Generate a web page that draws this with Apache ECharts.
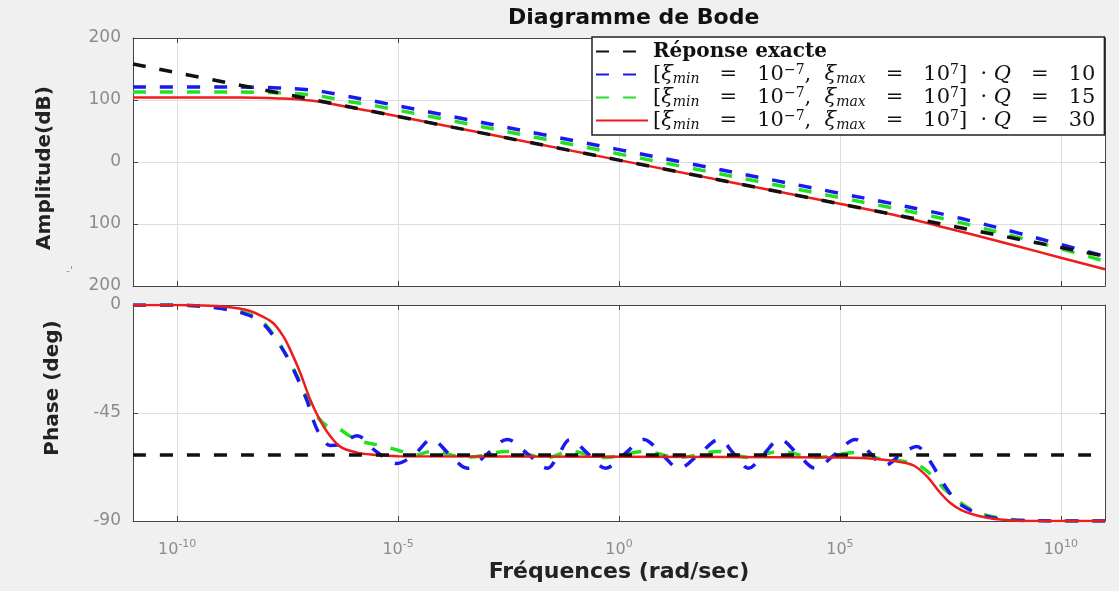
<!DOCTYPE html>
<html><head><meta charset="utf-8">
<script src="https://cdn.jsdelivr.net/npm/echarts@6/dist/echarts.min.js"></script>
<style>html,body{margin:0;padding:0;background:#f0f0f0;}#c{width:1119px;height:591px;}</style>
</head><body><div id="c"></div>
<script>
// ---- data (x values are log10 of frequency in rad/sec) ----
const seriesNames = ['Réponse exacte', 'Q = 10', 'Q = 15', 'Q = 30'];
const xTickValues = [-10, -5, 0, 5, 10];
const ampTicks = [-200, -100, 0, 100, 200];
const phaseTicks = [-90, -45, 0];

const ampExactX = [-11, -5, 0, 5, 11];
const ampExactY = [158, 73.5, 3, -67.5, -152];
const ampQ10X = [-11, -9, -8.2, -7.7, -7.17, -6.7, -6.2, -5.5, 0, 5, 6, 7, 7.5, 8, 9, 10, 11];
const ampQ10Y = [121, 121, 120.5, 119.5, 117.5, 113.5, 106.5, 97.5, 20, -50.5, -64.5, -79, -87, -95.5, -114, -133, -152];
const ampQ15X = [-11, -9, -8.2, -7.7, -7.17, -6.7, -6.2, -5.5, 0, 5, 6, 7, 7.5, 8, 9, 10, 11];
const ampQ15Y = [113, 113, 112.5, 111.5, 109.5, 105.5, 98.5, 90.5, 13, -57.5, -71.5, -86, -94, -102.5, -121, -140, -160];
const ampQ30X = [-11, -9, -8.2, -7.7, -7.17, -6.7, -6.2, -5.5, 0, 5, 6, 6.5, 7, 7.5, 8, 9, 10, 11];
const ampQ30Y = [104, 104, 103.5, 102.5, 100.5, 96.5, 89.5, 80.5, 3, -67.5, -82, -90, -99, -108, -117, -135.5, -154.5, -173];

const phExactX = [-11, 0, 11];
const phExactY = [-62.5, -62.5, -62.5];
const phQ10X = [-11, -10, -9.5, -9, -8.5, -8.1, -7.74, -7.5, -7.29, -7.06, -6.92, -6.77, -6.54, -6.3, -5.93, -5.5, -5.02, -4.62, -4.24, -3.85, -3.43, -2.98, -2.53, -2.07, -1.62, -1.36, -1.11, -0.7, -0.3, 0.13, 0.56, 0.96, 1.36, 1.82, 2.27, 2.6, 2.93, 3.28, 3.64, 4.04, 4.44, 4.9, 5.35, 5.7, 6.0, 6.4, 6.74, 7.0, 7.2, 7.4, 7.65, 7.9, 8.2, 8.6, 9, 10, 11];
const phQ10Y = [0, 0, -0.5, -1.5, -3.5, -7, -15, -22, -30, -40, -48, -54, -58.5, -58, -54.5, -61, -66, -62, -56, -62, -68, -62, -56, -62, -68, -62, -56, -62, -68, -62, -56, -62, -68, -62, -56, -62, -68, -62, -56, -62, -68, -62, -56, -62, -67, -62, -59, -64, -70, -76, -82, -85, -87.5, -89, -89.7, -90, -90];
const phQ15X = [-11, -10, -9.5, -9, -8.5, -8.1, -7.8, -7.5, -7.25, -7.05, -6.85, -6.6, -6.35, -6.1, -5.8, -5.4, -5.0, -4.6, -4.24, -3.43, -2.53, -1.62, -1.11, -0.3, 0.56, 1.36, 2.27, 2.93, 3.64, 4.44, 5.35, 6.0, 6.4, 6.8, 7.05, 7.33, 7.7, 8.0, 8.3, 8.7, 9.2, 10, 11];
const phQ15Y = [0, 0, -0.4, -1.2, -3, -6.5, -13, -22, -31, -39, -46, -50.5, -51.5, -54.5, -57, -58.5, -60.5, -62.5, -61, -63.5, -61, -63.5, -61, -63.5, -61, -63.5, -61, -63.5, -61, -63.5, -61.5, -64.5, -65, -67, -70.5, -76, -82, -85.5, -87.5, -89, -89.7, -90, -90];
const phQ30X = [-11, -10, -9.5, -9, -8.6, -8.35, -8.1, -7.83, -7.6, -7.44, -7.22, -6.99, -6.81, -6.6, -6.31, -5.93, -5.57, -5, 0, 5, 5.5, 6, 6.4, 6.7, 7.0, 7.26, 7.5, 7.75, 8.0, 8.3, 8.7, 9.3, 11];
const phQ30Y = [0, 0, -0.2, -0.6, -1.5, -2.5, -4.5, -7.5, -13, -18.7, -28, -39.4, -46.5, -53, -59, -61.5, -62.4, -63, -63.2, -63.5, -63.8, -64.5, -65.5, -67.2, -72, -78, -82.5, -85.5, -87.2, -88.5, -89.5, -90, -90];

const mathRow = function (q) {
  return '[{i|ξ}{sub|min}   =   10{sup|−7},  {i|ξ}{sub|max}   =   10{sup|7}]  · {i|Q}   =   ' + q;
};
const legendLabels = {
  'Réponse exacte': '{bold|Réponse exacte}',
  'Q = 10': mathRow('10'),
  'Q = 15': mathRow('15'),
  'Q = 30': mathRow('30')
};
const colors = {'Réponse exacte': '#111111', 'Q = 10': '#1a1af0', 'Q = 15': '#22e022', 'Q = 30': '#ee1c1c'};

function zip(xs, ys) { return xs.map((x, i) => [x, ys[i]]); }

const axisColor = '#444';
const labelColor = '#8c8c8c';
const gridLine = {show: true, lineStyle: {color: '#dedede', width: 1}};

function xAx(gridIndex, position, opts) {
  return Object.assign({
    type: 'value', gridIndex: gridIndex, position: position, min: -11, max: 11,
    axisLine: {show: true, onZero: false, lineStyle: {color: axisColor, width: 1}},
    axisTick: {show: true, inside: true, length: 5, customValues: xTickValues, lineStyle: {color: axisColor}},
    axisLabel: {show: false, customValues: xTickValues},
    splitLine: {show: false}
  }, opts || {});
}
function yAx(gridIndex, position, min, max, interval, opts) {
  return Object.assign({
    type: 'value', gridIndex: gridIndex, position: position, min: min, max: max, interval: interval,
    axisLine: {show: true, onZero: false, lineStyle: {color: axisColor, width: 1}},
    axisTick: {show: true, inside: true, length: 5, lineStyle: {color: axisColor}},
    axisLabel: {show: false},
    splitLine: {show: false}
  }, opts || {});
}

const xLabelRich = {
  b: {fontFamily: 'DejaVu Sans', fontSize: 16, color: labelColor, lineHeight: 22},
  s: {fontFamily: 'DejaVu Sans', fontSize: 11, color: labelColor, lineHeight: 12, verticalAlign: 'top'}
};

function mkSeries(name, xi, yi, xs, ys, dashed, width, z) {
  return {
    name: name, type: 'line', xAxisIndex: xi, yAxisIndex: yi, data: zip(xs, ys),
    symbol: 'none', showSymbol: false, smooth: 0.35, z: z,
    lineStyle: {color: colors[name], width: width, type: dashed ? [13, 14] : 'solid'},
    itemStyle: {color: colors[name]},
    emphasis: {disabled: true}, animation: false
  };
}

const chart = echarts.init(document.getElementById('c'), null, {renderer: 'canvas'});
chart.setOption({
  backgroundColor: '#f0f0f0',
  animation: false,
  title: {
    text: 'Diagramme de Bode', left: 503, top: 2,
    textStyle: {fontFamily: 'DejaVu Sans', fontWeight: 'bold', fontSize: 22, color: '#111'}
  },
  grid: [
    {left: 133, right: 14, top: 38, height: 248, show: true, backgroundColor: '#fff', borderWidth: 0},
    {left: 133, right: 14, top: 305, height: 216, show: true, backgroundColor: '#fff', borderWidth: 0}
  ],
  legend: {
    orient: 'vertical', left: 592, top: 37, padding: [3, 9, 3, 3],
    backgroundColor: '#fff', borderColor: '#222', borderWidth: 1.5, borderRadius: 0,
    itemWidth: 52, itemHeight: 14, itemGap: 0,
    itemStyle: {color: 'rgba(0,0,0,0)', borderWidth: 0, opacity: 0},
    data: ['Réponse exacte', 'Q = 10', 'Q = 15', 'Q = 30'],
    formatter: function (n) { return legendLabels[n]; },
    textStyle: {
      fontFamily: 'DejaVu Serif', fontSize: 21, color: '#111', lineHeight: 23,
      rich: {
        bold: {fontFamily: 'DejaVu Serif', fontWeight: 'bold', fontSize: 20, color: '#111', lineHeight: 23},
        i: {fontFamily: 'DejaVu Serif', fontStyle: 'italic', fontSize: 21, color: '#111', lineHeight: 23},
        sub: {fontFamily: 'DejaVu Serif', fontStyle: 'italic', fontSize: 14, color: '#111', lineHeight: 14, verticalAlign: 'bottom'},
        sup: {fontFamily: 'DejaVu Serif', fontSize: 14, color: '#111', lineHeight: 14, verticalAlign: 'top'}
      }
    }
  },
  xAxis: [
    xAx(0, 'bottom', {splitLine: gridLine}),
    xAx(1, 'bottom', {
      splitLine: gridLine,
      name: 'Fréquences (rad/sec)', nameLocation: 'middle', nameGap: 40,
      nameTextStyle: {fontFamily: 'DejaVu Sans', fontWeight: 'bold', fontSize: 22, color: '#222'},
      axisLabel: {
        show: true, customValues: xTickValues, margin: 18,
        formatter: function (v) { return '{b|10}{s|' + v + '}'; },
        rich: xLabelRich
      }
    }),
    xAx(0, 'top'),
    xAx(1, 'top')
  ],
  yAxis: [
    yAx(0, 'left', ampTicks[0], ampTicks[ampTicks.length - 1], 100, {
      splitLine: gridLine,
      name: 'Amplitude(dB)', nameLocation: 'middle', nameGap: 78,
      nameTextStyle: {fontFamily: 'DejaVu Sans', fontWeight: 'bold', fontSize: 20, color: '#222', padding: [0, 12, 0, 0]},
      axisLabel: {show: true, margin: 12, color: labelColor, fontFamily: 'DejaVu Sans', fontSize: 17,
        formatter: function (v) { return String(Math.abs(v)); }}
    }),
    yAx(1, 'left', phaseTicks[0], phaseTicks[phaseTicks.length - 1], 45, {
      splitLine: gridLine,
      name: 'Phase (deg)', nameLocation: 'middle', nameGap: 70,
      nameTextStyle: {fontFamily: 'DejaVu Sans', fontWeight: 'bold', fontSize: 20, color: '#222', padding: [0, 0, 0, 50]},
      axisLabel: {show: true, margin: 12, color: labelColor, fontFamily: 'DejaVu Sans', fontSize: 17}
    }),
    yAx(0, 'right', ampTicks[0], ampTicks[ampTicks.length - 1], 100),
    yAx(1, 'right', phaseTicks[0], phaseTicks[phaseTicks.length - 1], 45)
  ],
  graphic: [
    {type: 'text', left: 66, top: 266, style: {text: "-'", fill: '#999', fontSize: 11, fontFamily: 'DejaVu Sans'}}
  ],
  series: [
    mkSeries('Q = 15', 0, 0, ampQ15X, ampQ15Y, true, 3.5, 2),
    mkSeries('Q = 10', 0, 0, ampQ10X, ampQ10Y, true, 3.5, 3),
    mkSeries('Q = 30', 0, 0, ampQ30X, ampQ30Y, false, 2.5, 4),
    mkSeries('Réponse exacte', 0, 0, ampExactX, ampExactY, true, 3.5, 5),
    mkSeries('Q = 15', 1, 1, phQ15X, phQ15Y, true, 3.5, 2),
    mkSeries('Q = 10', 1, 1, phQ10X, phQ10Y, true, 3.5, 3),
    mkSeries('Q = 30', 1, 1, phQ30X, phQ30Y, false, 2.5, 4),
    mkSeries('Réponse exacte', 1, 1, phExactX, phExactY, true, 3.5, 5)
  ]
});
</script>
</body></html>
